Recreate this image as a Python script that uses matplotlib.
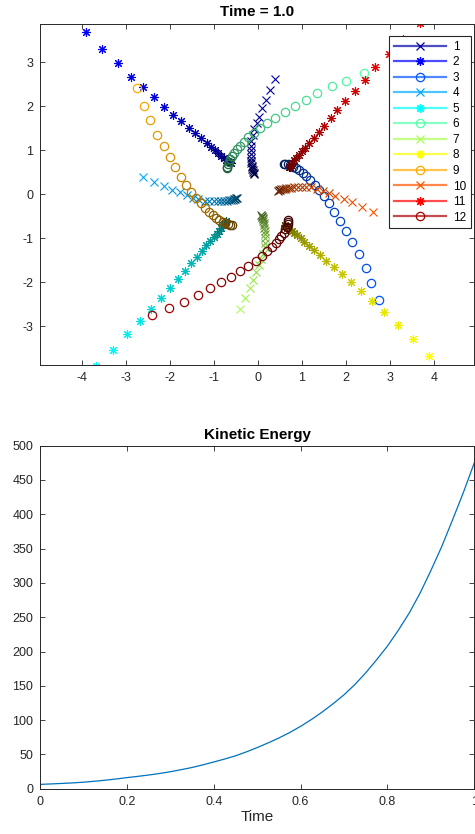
import numpy as np
import matplotlib
matplotlib.use('Agg')
import matplotlib.pyplot as plt
from matplotlib.lines import Line2D

plt.rcParams['font.family'] = ['Liberation Sans', 'DejaVu Sans']
plt.rcParams['axes.unicode_minus'] = False

# particle paths, ordered in time (t = 0 near the centre, t = 1 outermost)
x1 = [-0.08, -0.09, -0.10, -0.11, -0.12, -0.13, -0.14, -0.15, -0.15, -0.16, -0.16, -0.16, -0.16, -0.16, -0.11, -0.08, -0.02, 0.04, 0.10, 0.18, 0.28, 0.40]
y1 = [0.47, 0.49, 0.51, 0.54, 0.57, 0.61, 0.65, 0.70, 0.76, 0.83, 0.91, 1.00, 1.10, 1.20, 1.35, 1.48, 1.61, 1.76, 1.95, 2.14, 2.36, 2.61]
x2 = [-0.61, -0.63, -0.67, -0.71, -0.77, -0.83, -0.90, -0.98, -1.06, -1.16, -1.28, -1.42, -1.56, -1.74, -1.92, -2.12, -2.35, -2.60, -2.88, -3.18, -3.53, -3.90]
y2 = [0.71, 0.73, 0.76, 0.78, 0.83, 0.87, 0.93, 1.00, 1.08, 1.17, 1.27, 1.39, 1.51, 1.66, 1.81, 1.99, 2.20, 2.43, 2.67, 2.98, 3.29, 3.68]
x3 = [0.59, 0.63, 0.68, 0.74, 0.80, 0.87, 0.94, 1.02, 1.10, 1.19, 1.29, 1.40, 1.51, 1.62, 1.74, 1.87, 2.00, 2.14, 2.29, 2.45, 2.58, 2.75]
y3 = [0.69, 0.69, 0.68, 0.66, 0.63, 0.59, 0.54, 0.48, 0.41, 0.32, 0.21, 0.09, -0.05, -0.21, -0.40, -0.61, -0.84, -1.09, -1.35, -1.68, -2.01, -2.41]
x4 = [-0.47, -0.49, -0.51, -0.54, -0.57, -0.61, -0.65, -0.70, -0.76, -0.83, -0.91, -1.00, -1.10, -1.20, -1.35, -1.48, -1.61, -1.76, -1.95, -2.14, -2.36, -2.61]
y4 = [-0.08, -0.09, -0.10, -0.11, -0.12, -0.13, -0.14, -0.15, -0.15, -0.16, -0.16, -0.16, -0.16, -0.16, -0.11, -0.08, -0.02, 0.04, 0.10, 0.18, 0.28, 0.40]
x5 = [-0.71, -0.73, -0.76, -0.78, -0.83, -0.87, -0.93, -1.00, -1.08, -1.17, -1.27, -1.39, -1.51, -1.66, -1.81, -1.99, -2.20, -2.43, -2.67, -2.98, -3.29, -3.68]
y5 = [-0.61, -0.63, -0.67, -0.71, -0.77, -0.83, -0.90, -0.98, -1.06, -1.16, -1.28, -1.42, -1.56, -1.74, -1.92, -2.12, -2.35, -2.60, -2.88, -3.18, -3.53, -3.90]
x6 = [-0.69, -0.69, -0.68, -0.66, -0.63, -0.59, -0.54, -0.48, -0.41, -0.32, -0.21, -0.09, 0.05, 0.21, 0.40, 0.61, 0.84, 1.09, 1.35, 1.68, 2.01, 2.41]
y6 = [0.59, 0.63, 0.68, 0.74, 0.80, 0.87, 0.94, 1.02, 1.10, 1.19, 1.29, 1.40, 1.51, 1.62, 1.74, 1.87, 2.00, 2.14, 2.29, 2.45, 2.58, 2.75]
x7 = [0.08, 0.09, 0.10, 0.11, 0.12, 0.13, 0.14, 0.15, 0.15, 0.16, 0.16, 0.16, 0.16, 0.16, 0.11, 0.08, 0.02, -0.04, -0.10, -0.18, -0.28, -0.40]
y7 = [-0.47, -0.49, -0.51, -0.54, -0.57, -0.61, -0.65, -0.70, -0.76, -0.83, -0.91, -1.00, -1.10, -1.20, -1.35, -1.48, -1.61, -1.76, -1.95, -2.14, -2.36, -2.61]
x8 = [0.61, 0.63, 0.67, 0.71, 0.77, 0.83, 0.90, 0.98, 1.06, 1.16, 1.28, 1.42, 1.56, 1.74, 1.92, 2.12, 2.35, 2.60, 2.88, 3.18, 3.53, 3.90]
y8 = [-0.71, -0.73, -0.76, -0.78, -0.83, -0.87, -0.93, -1.00, -1.08, -1.17, -1.27, -1.39, -1.51, -1.66, -1.81, -1.99, -2.20, -2.43, -2.67, -2.98, -3.29, -3.68]
x9 = [-0.59, -0.63, -0.68, -0.74, -0.80, -0.87, -0.94, -1.02, -1.10, -1.19, -1.29, -1.40, -1.51, -1.62, -1.74, -1.87, -2.00, -2.14, -2.29, -2.45, -2.58, -2.75]
y9 = [-0.69, -0.69, -0.68, -0.66, -0.63, -0.59, -0.54, -0.48, -0.41, -0.32, -0.21, -0.09, 0.05, 0.21, 0.40, 0.61, 0.84, 1.09, 1.35, 1.68, 2.01, 2.41]
x10 = [0.47, 0.49, 0.51, 0.54, 0.57, 0.61, 0.65, 0.70, 0.76, 0.83, 0.91, 1.00, 1.10, 1.20, 1.35, 1.48, 1.61, 1.76, 1.95, 2.14, 2.36, 2.61]
y10 = [0.08, 0.09, 0.10, 0.11, 0.12, 0.13, 0.14, 0.15, 0.15, 0.16, 0.16, 0.16, 0.16, 0.16, 0.11, 0.08, 0.02, -0.04, -0.10, -0.18, -0.28, -0.40]
x11 = [0.71, 0.73, 0.76, 0.78, 0.83, 0.87, 0.93, 1.00, 1.08, 1.17, 1.27, 1.39, 1.51, 1.66, 1.81, 1.99, 2.20, 2.43, 2.67, 2.98, 3.29, 3.68]
y11 = [0.61, 0.63, 0.67, 0.71, 0.77, 0.83, 0.90, 0.98, 1.06, 1.16, 1.28, 1.42, 1.56, 1.74, 1.92, 2.12, 2.35, 2.60, 2.88, 3.18, 3.53, 3.90]
x12 = [0.69, 0.69, 0.68, 0.66, 0.63, 0.59, 0.54, 0.48, 0.41, 0.32, 0.21, 0.09, -0.05, -0.21, -0.40, -0.61, -0.84, -1.09, -1.35, -1.68, -2.01, -2.41]
y12 = [-0.59, -0.63, -0.68, -0.74, -0.80, -0.87, -0.94, -1.02, -1.10, -1.19, -1.29, -1.40, -1.51, -1.62, -1.74, -1.87, -2.00, -2.14, -2.29, -2.45, -2.58, -2.75]

xs = [x1, x2, x3, x4, x5, x6, x7, x8, x9, x10, x11, x12]
ys = [y1, y2, y3, y4, y5, y6, y7, y8, y9, y10, y11, y12]
labels = [str(i) for i in range(1, 13)]

# kinetic energy vs time
ke_t = [0.0, 0.025, 0.05, 0.075, 0.1, 0.125, 0.15, 0.175, 0.2, 0.225, 0.25,
        0.275, 0.3, 0.325, 0.35, 0.375, 0.4, 0.425, 0.45, 0.475, 0.5,
        0.525, 0.55, 0.575, 0.6, 0.625, 0.65, 0.675, 0.7, 0.725, 0.75,
        0.775, 0.8, 0.825, 0.85, 0.875, 0.9, 0.925, 0.95, 0.975, 1.0]
ke = [6.3, 7.0, 7.7, 8.5, 9.5, 10.9, 12.4, 14.2, 16.2, 18.0, 20.0,
      22.2, 24.8, 27.8, 31.0, 34.8, 39.0, 43.3, 48.0, 53.7, 60.0,
      66.8, 74.0, 82.0, 91.0, 101.0, 112.0, 124.0, 137.0, 152.0, 169.0,
      188.0, 208.0, 231.0, 256.0, 285.0, 318.0, 353.0, 392.0, 432.0, 475.0]

# jet(12)
jet12 = [(0, 0, 0.667), (0, 0, 1), (0, 0.333, 1), (0, 0.667, 1), (0, 1, 1),
         (0.333, 1, 0.667), (0.667, 1, 0.333), (1, 1, 0), (1, 0.667, 0),
         (1, 0.333, 0), (1, 0, 0), (0.667, 0, 0)]
star = (8, 2, 0)
markers = ['x', star, 'o'] * 4
msizes = ['x', 's', 'o'] * 4
sizes = {'x': 5.5, 's': 6.5, 'o': 6.0}

axcol = (0.15, 0.15, 0.15)

fig = plt.figure(figsize=(4.75, 8.34), dpi=100)
ax1 = fig.add_axes([0.0848, 0.5624, 0.9137, 0.4089])
ax2 = fig.add_axes([0.0848, 0.0543, 0.9137, 0.4113])

handles = []
for k in range(12):
    base = np.array(jet12[k])
    mk = markers[k]
    ms = sizes[msizes[k]]
    n = len(xs[k])
    for i in range(n):
        shade = 0.35 + 0.65 * i / (n - 1)
        c = tuple(base * shade)
        if mk == 'o':
            ax1.plot(xs[k][i], ys[k][i], ls='none', marker='o', ms=ms, mfc='none',
                     mec=c, mew=0.9)
        else:
            ax1.plot(xs[k][i], ys[k][i], ls='none', marker=mk, ms=ms, mec=c, mfc=c,
                     mew=0.8)
    linecol = tuple(base * 0.7 + 0.3)
    handles.append(Line2D([], [], color=linecol, lw=1.6, marker=mk, ms=ms,
                          mec=tuple(base), mfc='none', mew=0.9))

ax1.set_xlim(-4.94, 4.92)
ax1.set_ylim(-3.88, 3.87)
ax1.set_xticks(range(-4, 5))
ax1.set_yticks(range(-3, 4))
ax1.set_title('Time = 1.0', fontsize=11, fontweight='bold', pad=5.5)
leg = ax1.legend(handles, labels, loc='upper right', bbox_to_anchor=(0.9917, 0.9648),
                 borderaxespad=0, fontsize=8.5, labelspacing=0.3, handlelength=4.4,
                 handletextpad=0.6, borderpad=0.4, fancybox=False, framealpha=1)
leg.get_frame().set_edgecolor(axcol)
leg.get_frame().set_linewidth(0.8)

ax2.plot(ke_t, ke, color=(0, 0.447, 0.741), lw=0.9)
ax2.set_xlim(0, 1)
ax2.set_ylim(0, 500)
ax2.set_xticks([0, 0.2, 0.4, 0.6, 0.8, 1])
ax2.set_xticklabels(['0', '0.2', '0.4', '0.6', '0.8', '1'])
ax2.set_yticks(range(0, 501, 50))
ax2.set_title('Kinetic Energy', fontsize=11, fontweight='bold', pad=5)
ax2.set_xlabel('Time', fontsize=11, color=axcol, labelpad=2)

for ax in (ax1, ax2):
    ax.tick_params(direction='in', top=True, right=True, length=3.5, width=0.6,
                   labelsize=9, colors=axcol, pad=5)
    for s in ax.spines.values():
        s.set_color(axcol)
        s.set_linewidth(0.7)

fig.savefig('out.png', dpi=100)
